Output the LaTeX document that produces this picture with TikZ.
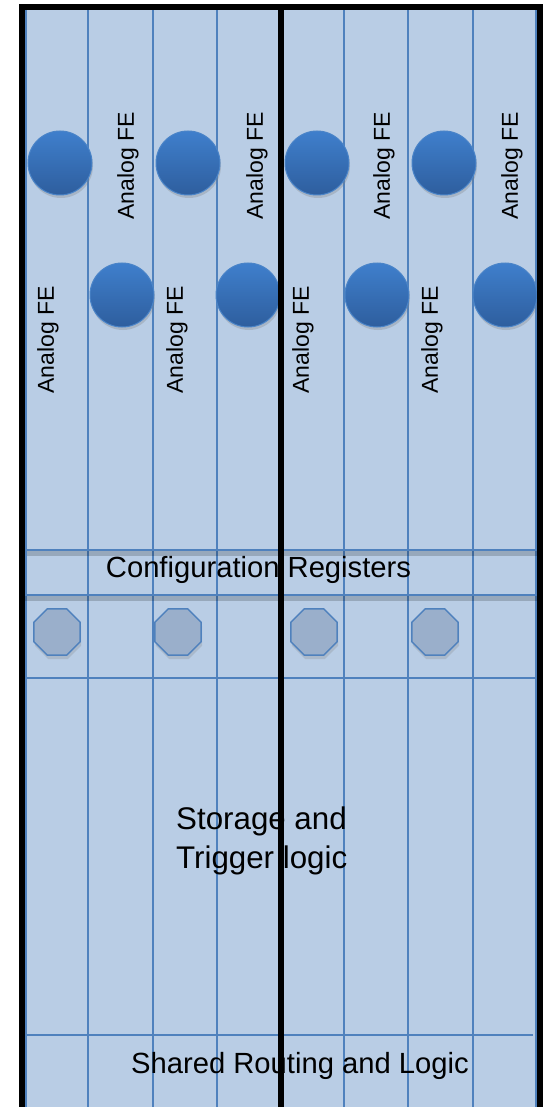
\documentclass[tikz,border=0pt]{standalone}
\usepackage{fontspec}
\setmainfont{Liberation Sans}
\usetikzlibrary{shapes.geometric,shadows}
\definecolor{bgfill}{HTML}{B9CDE5}
\definecolor{gridblue}{HTML}{4F81BD}
\definecolor{ctop}{HTML}{3F7FCC}
\definecolor{cbot}{HTML}{2E5E9E}
\definecolor{cedge}{HTML}{4A84C8}
\definecolor{octfill}{HTML}{9AAFCB}
\begin{document}
\begin{tikzpicture}[x=1pt,y=-1pt,
  gridline/.style={draw=gridblue,line width=2pt},
  lineshadow/.style={draw=black,opacity=0.18,line width=5pt},
  frameline/.style={draw=black,line width=6pt},
  fecircle/.style={circle,minimum size=64pt,inner sep=0pt,top color=ctop,bottom color=cbot,
    draw=cedge,line width=1pt,
    drop shadow={opacity=0.3,shadow xshift=1pt,shadow yshift=-3pt}},
  fetext/.style={rotate=90,inner sep=0pt,font=\fontsize{23}{27}\selectfont},
  oct/.style={regular polygon,regular polygon sides=8,minimum size=50.3pt,inner sep=0pt,
    fill=octfill,draw=gridblue,line width=1.5pt,
    drop shadow={opacity=0.25,shadow xshift=1pt,shadow yshift=-4pt}},
  bandtext/.style={inner sep=0pt,font=\fontsize{29.2}{35}\selectfont},
  bigtext/.style={inner sep=0pt,align=left,font=\fontsize{31.3}{38.5}\selectfont}
]
\path[use as bounding box] (0,0) rectangle (543,1107);
\clip (0,0) rectangle (543,1107);
% background
\fill[bgfill] (25,9) rectangle (537,1120);
% vertical grid lines
\foreach \x in {25.5,88,153,217,344,408,473,536}
  \draw[gridline] (\x,9) -- (\x,1120);
% horizontal lines
\draw[lineshadow] (27,553.5) -- (537,553.5);
\draw[lineshadow] (25,598.5) -- (537,598.5);
\draw[gridline,line width=2.5pt] (27,550) -- (537,550);
\draw[gridline,line width=2.5pt] (25,595) -- (537,595);
\draw[gridline,line width=2.2pt] (25,678) -- (537,678);
\draw[gridline,line width=2.2pt] (25,1035) -- (533,1035);
% front-end circles
\node[fecircle] (c1) at (60,163) {};
\node[fecircle] (c2) at (188,163) {};
\node[fecircle] (c3) at (317,163) {};
\node[fecircle] (c4) at (444,163) {};
\node[fecircle] (c5) at (122,295) {};
\node[fecircle] (c6) at (248,295) {};
\node[fecircle] (c7) at (377,295) {};
\node[fecircle] (c8) at (505,295) {};
% labels
\node[fetext] (t1) at (128,166) {Analog FE};
\node[fetext] (t2) at (257,166) {Analog FE};
\node[fetext] (t3) at (384,166) {Analog FE};
\node[fetext] (t4) at (512,166) {Analog FE};
\node[fetext] (t5) at (48,340) {Analog FE};
\node[fetext] (t6) at (177,340) {Analog FE};
\node[fetext] (t7) at (303,340) {Analog FE};
\node[fetext] (t8) at (432,340) {Analog FE};
% octagons
\node[oct] (o1) at (57,632) {};
\node[oct] (o2) at (178,632) {};
\node[oct] (o3) at (314,632) {};
\node[oct] (o4) at (435,632) {};
% band texts
\node[bandtext] (cfg) at (258.5,569.5) {Configuration Registers};
\node[bigtext,anchor=west] (stor) at (176,841) {Storage and\\Trigger logic};
\node[bandtext] (shr) at (300,1066) {Shared Routing and Logic};
% black frame
\draw[frameline] (22,1120) -- (22,7) -- (540,7) -- (540,1120);
\draw[frameline] (281,7) -- (281,1120);
\end{tikzpicture}
\end{document}
